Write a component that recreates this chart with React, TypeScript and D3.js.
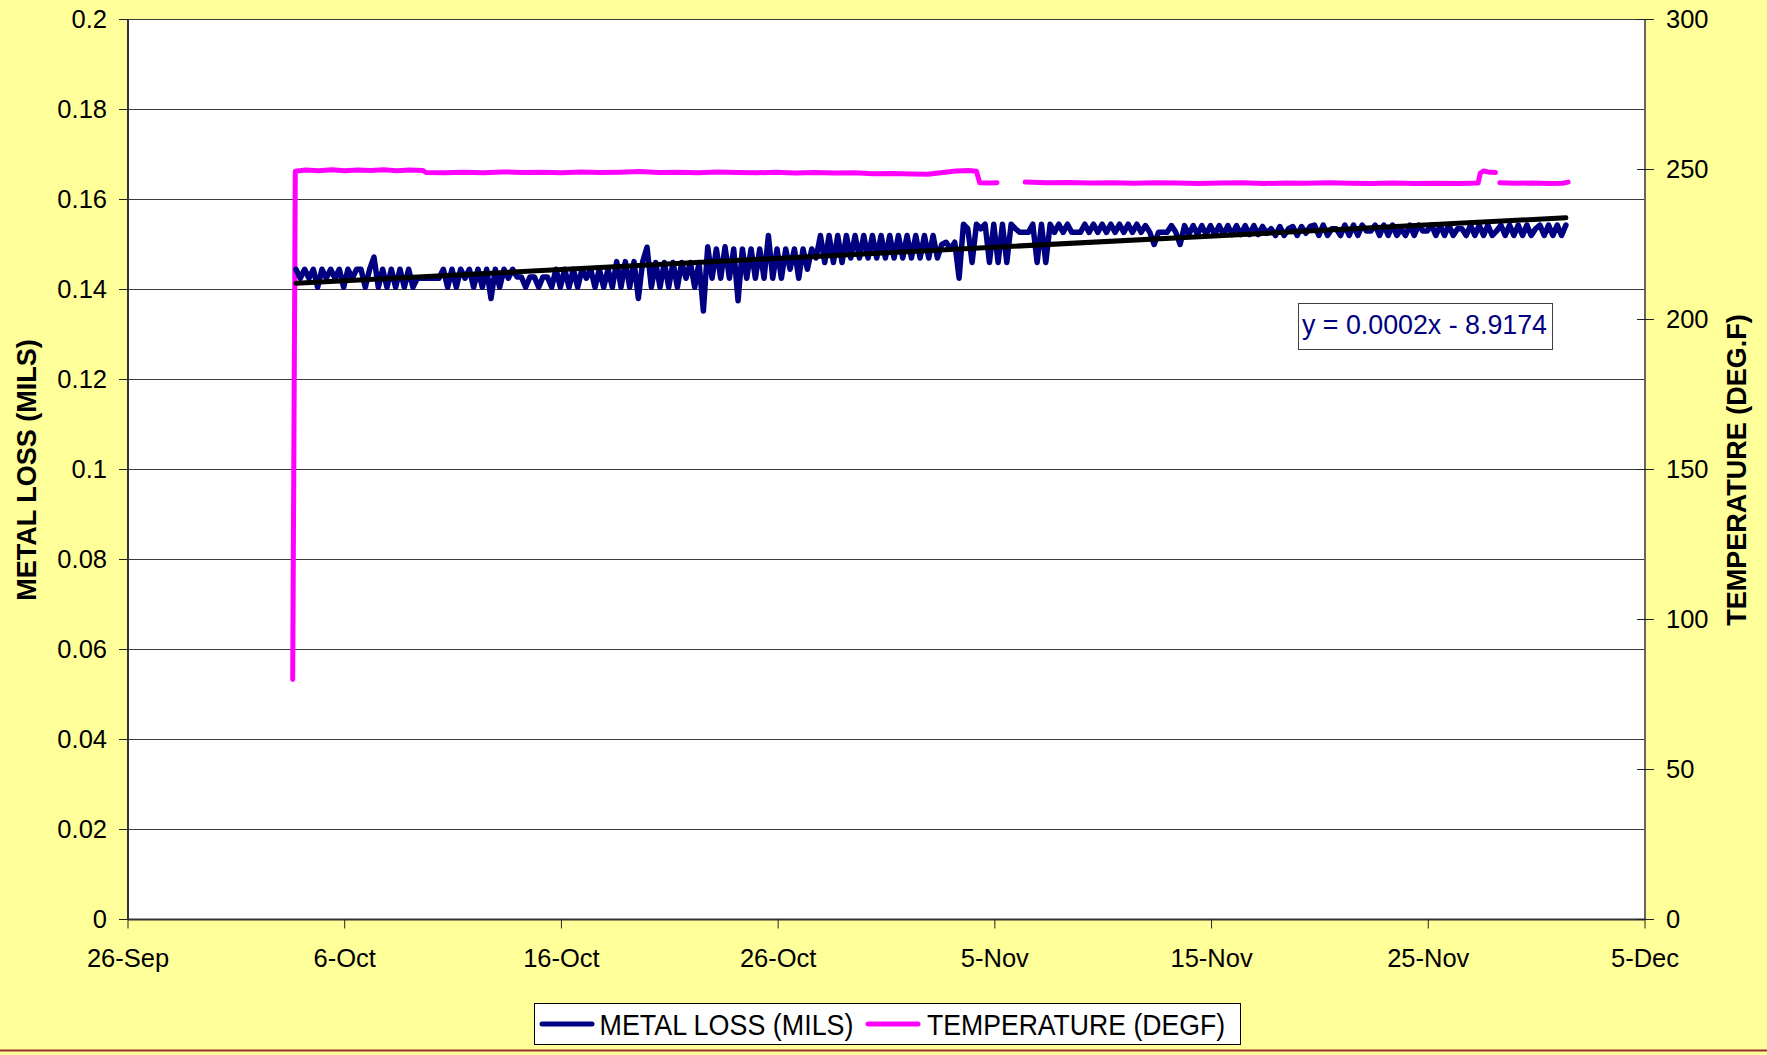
import React from 'react';
import * as d3 from 'd3';

const W = 1767;
const H = 1055;
const FONT = '"Liberation Sans", Arial, Helvetica, sans-serif';

// x axis: days since 26-Sep
const baseDateUTC = Date.UTC(2005, 8, 26);
const xTickDays = [0, 10, 20, 30, 40, 50, 60, 70];
const yLeftTicks = [0, 0.02, 0.04, 0.06, 0.08, 0.1, 0.12, 0.14, 0.16, 0.18, 0.2];
const yRightTicks = [0, 50, 100, 150, 200, 250, 300];

// METAL LOSS (MILS): readings every 0.2 day from day 7.75
const mlStartDay = 7.75;
const mlStepDays = 0.2;
const mlA = [0.1445, 0.1425, 0.1445, 0.1425, 0.1445, 0.1405, 0.1445, 0.1425, 0.1445, 0.1425, 0.1445, 0.1405, 0.1445, 0.1425, 0.1445, 0.1445, 0.1405, 0.1445,
  0.1472, 0.1405,
  0.1445, 0.1405, 0.1445, 0.1405, 0.1445, 0.1405, 0.1445, 0.1405, 0.1425,
  0.1425, 0.1425, 0.1425, 0.1425, 0.1425];
const mlB = [0.1445, 0.1405, 0.1445, 0.1405, 0.1445, 0.1425, 0.1445, 0.1405, 0.1445, 0.1405, 0.1445, 0.138, 0.1445, 0.1405, 0.1445, 0.1425, 0.1445,
  0.1428, 0.1428, 0.1405, 0.1428, 0.1428, 0.1405, 0.1428, 0.1428, 0.1405,
  0.1445, 0.1405, 0.1445, 0.1405, 0.1445, 0.1405, 0.1445, 0.1425, 0.1445, 0.1405, 0.1445, 0.1405, 0.1445, 0.1405];
const mlC = [0.1462, 0.1405, 0.1462, 0.1405, 0.1462, 0.138, 0.1462,
  0.1494,
  0.1405, 0.146, 0.1405, 0.146, 0.1405, 0.146, 0.1405, 0.146, 0.1425, 0.146, 0.1405, 0.146,
  0.1352,
  0.1495, 0.1425, 0.149, 0.1425, 0.1495, 0.1425, 0.149, 0.1375];
const mlD = [0.149, 0.1425, 0.149, 0.1425, 0.149, 0.1425, 0.152, 0.1425, 0.149, 0.1425, 0.149, 0.1445, 0.149, 0.1425, 0.149, 0.1445, 0.149, 0.147,
  0.152, 0.146, 0.152, 0.146, 0.152, 0.146, 0.152, 0.147,
  0.152, 0.147, 0.152, 0.147, 0.152, 0.147, 0.152, 0.147, 0.152, 0.147, 0.152, 0.147, 0.152, 0.147, 0.152, 0.147, 0.152, 0.147, 0.152, 0.147,
  0.15, 0.1505, 0.149, 0.1505, 0.1425];
const mlE = [0.1545, 0.1535, 0.146, 0.1545, 0.1535, 0.1545, 0.146, 0.1545, 0.146, 0.1545, 0.146, 0.1545, 0.1535,
  0.1527, 0.1527, 0.1527,
  0.1545, 0.146, 0.1545, 0.146,
  0.1545, 0.1527, 0.1545, 0.1527, 0.1545,
  0.1527, 0.1527, 0.1527,
  0.1545, 0.1527, 0.1545, 0.1527, 0.1545, 0.1527, 0.1545, 0.1527, 0.1545, 0.1527, 0.1545, 0.1527, 0.1545, 0.1527];
const mlF = [0.1542, 0.1527, 0.15, 0.1527, 0.1527, 0.1527, 0.1542, 0.1527, 0.15,
  0.1542, 0.1522, 0.1542, 0.1522, 0.1542, 0.1522, 0.1542, 0.1522, 0.1542, 0.1522, 0.1542, 0.1522, 0.1542, 0.1522, 0.1542, 0.1522, 0.1542, 0.1522,
  0.154, 0.1525, 0.1535, 0.152, 0.154, 0.152, 0.1535, 0.154, 0.152, 0.154, 0.1525, 0.154];
const mlG = [0.1543, 0.152, 0.1543, 0.152, 0.1535, 0.1535, 0.152, 0.1543, 0.152, 0.1543, 0.152, 0.1543, 0.153, 0.153, 0.1543, 0.152, 0.1543, 0.152, 0.1543, 0.152,
  0.1535, 0.152, 0.1543, 0.152, 0.1543, 0.153, 0.153, 0.1543, 0.152, 0.1543, 0.152, 0.1543, 0.152, 0.1535, 0.1535, 0.152, 0.1543, 0.152, 0.1543, 0.152,
  0.1543, 0.152, 0.153, 0.1543, 0.152, 0.1543, 0.152, 0.1543, 0.152, 0.1543, 0.152, 0.1535, 0.1543, 0.152, 0.1543, 0.152, 0.1543, 0.152, 0.1543];
const metalLoss = [...mlA, ...mlB, ...mlC, ...mlD, ...mlE, ...mlF, ...mlG];

// TEMPERATURE (DEGF): day since 26-Sep, value (null = no reading)
const tempDays = [7.6, 7.72, 8.2, 8.8, 9.4, 10.0, 10.6, 11.2, 11.8, 12.4, 13.0, 13.6, 13.75, 14.6, 15.5, 16.4, 17.3, 18.2, 19.1, 20.0,
  20.9, 21.8, 22.7, 23.6, 24.5, 25.4, 26.3, 27.2, 28.1, 29.0, 29.9, 30.8, 31.7, 32.6, 33.5, 34.4, 35.3, 36.2, 36.9, 37.6,
  38.2, 38.8, 39.15, 39.3, 39.7, 40.1, 40.2, 41.4, 42.4, 43.4, 44.4, 45.4, 46.4, 47.4, 48.4, 49.4, 50.4, 51.4, 52.4, 53.4,
  54.4, 55.4, 56.4, 57.4, 58.4, 59.4, 60.4, 61.4, 62.3, 62.4, 62.55, 62.75, 63.1, 63.15, 63.3, 64.0, 64.8, 65.6, 66.2, 66.45];
const tempValues = [80, 249.4, 249.8, 249.6, 249.9, 249.6, 249.8, 249.7, 249.9, 249.6, 249.8, 249.7, 249.0, 248.9, 249.1, 248.9, 249.2, 249.0, 249.1, 248.9,
  249.2, 249.0, 249.1, 249.3, 249.0, 249.1, 248.9, 249.2, 249.0, 248.9, 249.1, 248.8, 249.0, 248.8, 248.9, 248.6, 248.7, 248.5, 248.4, 249.0,
  249.5, 249.7, 249.4, 245.6, 245.5, 245.6, null, 245.8, 245.6, 245.7, 245.5, 245.6, 245.4, 245.6, 245.5, 245.3, 245.5, 245.6, 245.3, 245.5,
  245.4, 245.6, 245.4, 245.3, 245.5, 245.3, 245.4, 245.3, 245.5, 248.8, 249.5, 249.2, 249.0, null, 245.6, 245.4, 245.5, 245.3, 245.4, 245.8];

const legendLabels = ['METAL LOSS (MILS)', 'TEMPERATURE (DEGF)'];
const equationText = 'y = 0.0002x - 8.9174';

const dayToDate = (d: number) => new Date(baseDateUTC + d * 86400000);

export default function App() {
  const left = 128, right = 1645, top = 19.5, bottom = 919.5;
  const x = d3.scaleUtc().domain([dayToDate(0), dayToDate(70)]).range([left, right]);
  const yL = d3.scaleLinear().domain([0, 0.2]).range([bottom, top]);
  const yR = d3.scaleLinear().domain([0, 300]).range([bottom, top]);
  const fmt = d3.utcFormat('%-d-%b');

  const mlPts = metalLoss.map((v, i) => ({ d: mlStartDay + i * mlStepDays, v }));
  const tPts = tempDays.map((d, i) => ({ d, v: tempValues[i] }));

  // least-squares trend of metal loss
  const mx = d3.mean(mlPts, p => p.d) as number;
  const my = d3.mean(mlPts, p => p.v) as number;
  const sxy = d3.sum(mlPts, p => (p.d - mx) * (p.v - my));
  const sxx = d3.sum(mlPts, p => (p.d - mx) * (p.d - mx));
  const slope = sxy / sxx;
  const d0 = mlPts[0].d, d1 = mlPts[mlPts.length - 1].d;
  const trend = [{ d: d0, v: my + slope * (d0 - mx) }, { d: d1, v: my + slope * (d1 - mx) }];

  const mlLine = d3.line<{ d: number; v: number }>().x(p => x(dayToDate(p.d))).y(p => yL(p.v));
  const tLine = d3.line<{ d: number; v: number | null }>()
    .defined(p => p.v !== null)
    .x(p => x(dayToDate(p.d)))
    .y(p => yR(p.v as number));

  return (
    <svg width={W} height={H} style={{ position: 'absolute', left: 0, top: 0 }} fontFamily={FONT}>
      <rect x={0} y={0} width={W} height={H} fill="#FFFF99" />
      <line x1={0} x2={W} y1={1050.5} y2={1050.5} stroke="#993333" strokeWidth={2} />
      <rect x={left} y={top} width={right - left} height={bottom - top} fill="#FFFFFF" stroke="#808080" strokeWidth={1} />
      {yLeftTicks.map(t => (
        <line key={'g' + t} x1={left} x2={right} y1={yL(t)} y2={yL(t)} stroke="#3a3a3a" strokeWidth={1} />
      ))}
      {/* axes */}
      <line x1={left} x2={left} y1={top} y2={bottom + 0.5} stroke="#333" strokeWidth={2} />
      <line x1={right} x2={right} y1={top} y2={bottom + 0.5} stroke="#666" strokeWidth={2} />
      <line x1={left} x2={right} y1={bottom} y2={bottom} stroke="#333" strokeWidth={2} />
      {yLeftTicks.map(t => (
        <g key={'l' + t}>
          <line x1={left - 9} x2={left} y1={yL(t)} y2={yL(t)} stroke="#222" strokeWidth={1} />
          <text x={107} y={yL(t)} dy="0.35em" textAnchor="end" fontSize={25.5} fill="#000">{String(t)}</text>
        </g>
      ))}
      {yRightTicks.map(t => (
        <g key={'r' + t}>
          <line x1={right - 8} x2={right + 9} y1={yR(t)} y2={yR(t)} stroke="#222" strokeWidth={1} />
          <text x={1666} y={yR(t)} dy="0.35em" textAnchor="start" fontSize={25.5} fill="#000">{String(t)}</text>
        </g>
      ))}
      {xTickDays.map(d => (
        <g key={'x' + d}>
          <line x1={x(dayToDate(d))} x2={x(dayToDate(d))} y1={bottom} y2={bottom + 9} stroke="#222" strokeWidth={1} />
          <text x={x(dayToDate(d))} y={967} textAnchor="middle" fontSize={25.5} fill="#000">{fmt(dayToDate(d))}</text>
        </g>
      ))}
      {/* series */}
      <path d={tLine(tPts) || ''} fill="none" stroke="#FF00FF" strokeWidth={5} strokeLinejoin="round" strokeLinecap="round" />
      <path d={mlLine(mlPts) || ''} fill="none" stroke="#000080" strokeWidth={5.5} strokeLinejoin="round" strokeLinecap="round" />
      <path d={mlLine(trend) || ''} fill="none" stroke="#000000" strokeWidth={5} strokeLinecap="round" />
      {/* equation */}
      <rect x={1298.5} y={303.5} width={254} height={46} fill="#FFFFFF" stroke="#404040" strokeWidth={1} />
      <text x={1302} y={334} fontSize={27} fill="#000080" textLength={245} lengthAdjust="spacingAndGlyphs">{equationText}</text>
      {/* axis titles */}
      <text transform="translate(36,470) rotate(-90)" textAnchor="middle" fontSize={27} fontWeight="bold" fill="#000">METAL LOSS (MILS)</text>
      <text transform="translate(1746,470) rotate(-90)" textAnchor="middle" fontSize={27} fontWeight="bold" fill="#000">TEMPERATURE (DEG.F)</text>
      {/* legend */}
      <rect x={534.5} y={1003.5} width={706} height={41} fill="#FFFFFF" stroke="#000" strokeWidth={1} />
      <line x1={542} x2={592} y1={1024} y2={1024} stroke="#000080" strokeWidth={5} strokeLinecap="round" />
      <text x={599.5} y={1035} fontSize={29} fill="#000" textLength={254} lengthAdjust="spacingAndGlyphs">{legendLabels[0]}</text>
      <line x1={868} x2={918} y1={1024} y2={1024} stroke="#FF00FF" strokeWidth={5} strokeLinecap="round" />
      <text x={927} y={1035} fontSize={29} fill="#000" textLength={298} lengthAdjust="spacingAndGlyphs">{legendLabels[1]}</text>
    </svg>
  );
}
